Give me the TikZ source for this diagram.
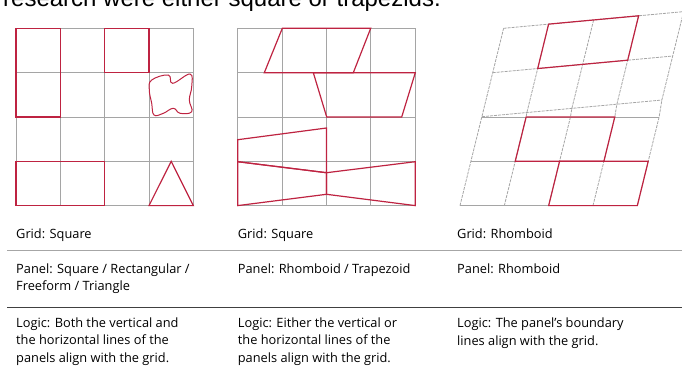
\documentclass[tikz,border=0pt]{standalone}
\usepackage{fontspec}
\setmainfont{Open Sans}
\newfontfamily\titlefont{Liberation Sans}
\definecolor{panelred}{RGB}{190,35,65}
\definecolor{gridgrey}{RGB}{165,165,165}
\tikzset{
  gridline/.style={draw=gridgrey,line width=0.8pt},
  tiltline/.style={draw=gridgrey,line width=0.8pt,dash pattern=on 3pt off 1pt},
  panel/.style={draw=panelred,line width=1.2pt,line join=miter},
  lbl/.style={anchor=base west,inner sep=0pt,align=left,font=\fontsize{12.8}{17.2}\selectfont}
}
\begin{document}
\begin{tikzpicture}[x=1pt,y=-1pt]
  \useasboundingbox (0,0) rectangle (682,370);
  % Titelzeile, oben abgeschnitten
  \begin{scope}
    \clip (0,0) rectangle (682,40);
    \node[anchor=base west,inner sep=0pt,font=\titlefont\fontsize{24}{28}\selectfont] (title) at (3,6.5) {research were either square or trapezids.};
  \end{scope}
  % Raster 1 und 2
  \foreach \ox in {16,237.7} {
    \foreach \i in {0,...,4} {
      \draw[gridline] ({\ox+44.33*\i},28.3) -- ({\ox+44.33*\i},205.6);
      \draw[gridline] (\ox,{28.3+44.33*\i}) -- ({\ox+177.3},{28.3+44.33*\i});
    }
  }
  % Panels 1: Rechteck, Quadrat, Freiform, Dreieck
  \draw[panel] (16,28.3) rectangle (60.3,117);
  \draw[panel] (104.7,28.3) rectangle (149,72.7);
  \draw[panel] (16,161.3) rectangle (104.7,205.6);
  \draw[panel] (149,205.6) -- (171.2,161.3) -- (193.3,205.6) -- cycle;
  \draw[panel,line width=1pt] plot[smooth cycle,tension=0.7] coordinates {
    (151.7,80) (168.3,75) (172.7,83.3) (190,74) (191.7,86.7) (189.3,100)
    (191.7,111.7) (180,113.3) (173.3,108.3) (163.3,113.3) (154,115)
    (151.7,103.3) (149.3,90)};
  % Panels 2: Rhomboid, Trapez
  \draw[panel] (282.3,28.3) -- (370.7,28.3) -- (353.3,72.7) -- (264.3,72.7) -- cycle;
  \draw[panel] (313.3,72.7) -- (415.3,72.7) -- (401.7,117) -- (326.7,117) -- cycle;
  \draw[panel] (237.7,139.7) -- (326.5,128) -- (326.5,172.7) -- (237.7,161.7) -- cycle;
  \draw[panel] (237.7,161.7) -- (326.5,172.7) -- (326.5,194.3) -- (237.7,205.6) -- cycle;
  \draw[panel] (326.5,172.7) -- (415.3,161.7) -- (415.3,205.6) -- (326.5,194.3) -- cycle;
  % Raster 3 (Rhomboid)
  \foreach \k in {0,...,4} {
    \foreach \r in {0,1,2}
      \coordinate (h\k\r) at ({460+44.33*\k+10.9*\r},{205.6-44.33*\r});
    \foreach \j/\yl in {0/116.7,1/72.7,2/28.3}
      \coordinate (t\k\j) at ({460+0.246*(205.6-\yl)+45*\k},{\yl-4.17*\k});
  }
  \foreach \r in {0,1,2}
    \draw[gridline] (h0\r) -- (h4\r);
  \foreach \j in {0,1,2}
    \draw[tiltline] (t0\j) -- (t4\j);
  \foreach \k in {0,...,4}
    \draw[tiltline] (h\k0) -- (h\k2) -- (t\k0) -- (t\k1) -- (t\k2);
  % Panels 3
  \draw[panel] (t12) -- (t32) -- (t31) -- (t11) -- cycle;
  \draw[panel] (h12) -- (h32) -- (h31) -- (h11) -- cycle;
  \draw[panel] (h21) -- (h41) -- (h40) -- (h20) -- cycle;
  % Trennlinien
  \draw[draw=gray!70,line width=1pt] (7,250.7) -- (682,250.7);
  \draw[draw=black!75,line width=1pt] (7,307) -- (682,307);
  % Texte (Anker = Grundlinie der letzten Zeile)
  \node[lbl] (grid1) at (16,238) {Grid: Square};
  \node[lbl] (grid2) at (237.7,238) {Grid: Square};
  \node[lbl] (grid3) at (457,238) {Grid: Rhomboid};
  \node[lbl] (panel1) at (16,290.7) {Panel: Square / Rectangular /\\Freeform / Triangle};
  \node[lbl] (panel2) at (237.7,273.3) {Panel: Rhomboid / Trapezoid};
  \node[lbl] (panel3) at (457,273.3) {Panel: Rhomboid};
  \node[lbl] (logic1) at (16,362) {Logic: Both the vertical and\\the horizontal lines of the\\panels align with the grid.};
  \node[lbl] (logic2) at (237.7,362) {Logic: Either the vertical or\\the horizontal lines of the\\panels align with the grid.};
  \node[lbl] (logic3) at (457,345) {Logic: The panel's boundary\\lines align with the grid.};
\end{tikzpicture}
\end{document}
